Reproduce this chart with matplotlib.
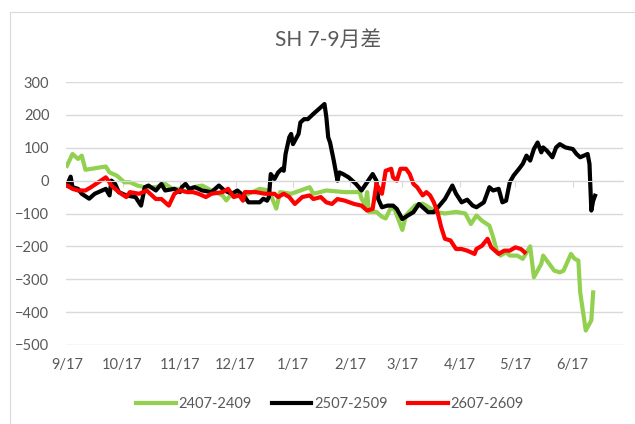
import datetime as dt

import matplotlib
matplotlib.use("Agg")
import matplotlib.pyplot as plt
import matplotlib.dates as mdates
from matplotlib.ticker import FuncFormatter
from matplotlib.patches import Rectangle

# days counted from 9/17
base = dt.date(2022, 9, 17)

days_2407 = [0, 3, 6, 8, 10, 21, 23, 27, 31, 34, 38, 42, 48, 53, 57, 60, 65, 68, 73,
             78, 84, 86, 89, 96, 102, 104, 109, 113, 115, 121, 126, 131, 133, 140, 150,
             158, 159, 161, 162, 163, 167, 170, 172, 175, 177, 181, 183, 188, 192, 195,
             199, 204, 210, 215, 218, 221, 224, 228, 230, 232, 234, 237, 239, 243, 246,
             250, 252, 256, 257, 263, 266, 268, 272, 274, 276, 277, 280, 283, 284]
vals_2407 = [45, 81, 66, 76, 33, 43, 25, 15, -5, -5, -15, -20, -20, -10, -25, -25, -35,
             -20, -15, -30, -45, -60, -40, -45, -30, -25, -30, -85, -35, -40, -30, -20,
             -40, -30, -35, -35, -55, -75, -35, -95, -95, -110, -115, -80, -90, -150,
             -105, -75, -70, -80, -95, -100, -95, -100, -132, -106, -122, -137, -172,
             -213, -228, -218, -228, -228, -238, -200, -294, -253, -228, -274, -279,
             -274, -223, -238, -243, -340, -456, -425, -340]

days_2507 = [0, 2, 3, 6, 8, 12, 15, 19, 21, 23, 24, 26, 28, 32, 37, 40, 42, 44, 48, 51,
             53, 58, 61, 62, 64, 66, 69, 73, 78, 82, 85, 89, 92, 96, 98, 104, 106, 108,
             109, 110, 112, 114, 116, 117, 118, 120, 121, 122, 125, 126, 128, 130, 133,
             139, 140, 141, 142, 144, 146, 147, 149, 152, 156, 159, 162, 165, 167, 168,
             170, 173, 176, 178, 181, 184, 187, 190, 193, 195, 198, 201, 204, 208, 210,
             213, 216, 219, 221, 225, 228, 230, 233, 235, 237, 239, 241, 244, 246, 248,
             250, 252, 254, 256, 257, 259, 262, 264, 266, 269, 273, 275, 277, 279, 281,
             282, 283, 284, 285]
vals_2507 = [-15, 12, -20, -25, -40, -55, -40, -30, -25, -45, 0, -10, -35, -45, -50, -76,
             -20, -15, -30, -10, -30, -25, -35, -20, -10, -25, -20, -30, -35, -15, -30,
             -40, -30, -50, -66, -66, -55, -61, -50, 20, 5, 25, 36, 30, 81, 132, 142,
             111, 142, 177, 187, 187, 203, 233, 193, 132, 116, 61, 0, 25, 20, 10, -10,
             -30, -5, 20, 0, -56, -81, -76, -76, -86, -117, -106, -96, -71, -86, -96,
             -96, -76, -56, -15, -40, -66, -58, -76, -81, -66, -20, -30, -25, -66, -61,
             -5, 15, 36, 51, 76, 61, 96, 116, 86, 101, 91, 71, 101, 111, 101, 96, 81, 71,
             76, 81, 51, -91, -61, -46]

days_2607 = [0, 3, 6, 10, 13, 17, 21, 23, 24, 28, 32, 34, 39, 43, 48, 51, 55, 58, 61, 65,
             68, 71, 75, 78, 84, 87, 90, 93, 95, 96, 102, 107, 112, 114, 117, 120, 123,
             127, 131, 133, 137, 140, 143, 146, 150, 155, 159, 162, 165, 167, 168, 170,
             172, 175, 176, 178, 180, 183, 185, 187, 189, 192, 194, 196, 198, 200, 202,
             204, 207, 210, 213, 216, 220, 221, 224, 227, 229, 230, 233, 236, 239, 242,
             245, 247]
vals_2607 = [-15, -25, -30, -30, -20, -5, 10, -5, -15, -35, -50, -35, -40, -30, -56, -56,
             -76, -40, -30, -35, -35, -40, -50, -40, -35, -25, -50, -45, -61, -35, -35,
             -40, -40, -50, -40, -50, -71, -50, -45, -56, -50, -66, -71, -56, -61, -71,
             -76, -91, -86, -10, -20, -40, 30, 36, 10, 0, 36, 36, 20, -10, -20, -45, -35,
             -45, -66, -96, -142, -177, -182, -208, -208, -213, -223, -208, -198, -177,
             -203, -208, -223, -213, -213, -203, -208, -218]

tick_dates = [dt.date(2022, 9, 17), dt.date(2022, 10, 17), dt.date(2022, 11, 17),
              dt.date(2022, 12, 17), dt.date(2023, 1, 17), dt.date(2023, 2, 17),
              dt.date(2023, 3, 17), dt.date(2023, 4, 17), dt.date(2023, 5, 17),
              dt.date(2023, 6, 17)]
yticks = [300, 200, 100, 0, -100, -200, -300, -400, -500]

grey = "#595959"
gridc = "#D9D9D9"
font = ["Lato", "Noto Sans CJK SC", "DejaVu Sans"]
plt.rcParams["font.family"] = font


def to_dates(days):
    return [base + dt.timedelta(days=d) for d in days]


fig = plt.figure(figsize=(6.35, 4.24), dpi=100)
fig.patches.append(Rectangle((10 / 635, -0.1), 1.0, 1.1 - 12 / 424,
                             transform=fig.transFigure, fill=False,
                             edgecolor=gridc, lw=0.8))
ax = fig.add_axes([66 / 635, 1 - 345 / 424, 557 / 635, 263 / 424])

ax.plot(to_dates(days_2407), vals_2407, color="#92D050", lw=3, label="2407-2409",
        solid_joinstyle="round")
ax.plot(to_dates(days_2507), vals_2507, color="black", lw=3, label="2507-2509",
        solid_joinstyle="round")
ax.plot(to_dates(days_2607), vals_2607, color="#FF0000", lw=3, label="2607-2609",
        solid_joinstyle="round")

x0 = mdates.date2num(base) - 0.5
ax.set_xlim(x0, x0 + 557 / 1.853)
ax.set_ylim(-500, 300)
ax.set_yticks(yticks)
ax.yaxis.grid(True, color=gridc, lw=1)
ax.set_axisbelow(True)
ax.tick_params(axis="y", length=0, labelsize=10.5, labelcolor=grey, pad=12)

for s in ["top", "right", "left"]:
    ax.spines[s].set_visible(False)
# horizontal axis crosses at 0, labels stay at the bottom
ax.spines["bottom"].set_position(("data", 0))
ax.spines["bottom"].set_color(gridc)
ax.set_xticks([mdates.date2num(d) for d in tick_dates])
ax.tick_params(axis="x", length=4, color=gridc, labelbottom=False)

sec = ax.secondary_xaxis(0)
sec.spines["bottom"].set_visible(False)
sec.set_xticks([mdates.date2num(d) for d in tick_dates])
sec.xaxis.set_major_formatter(FuncFormatter(
    lambda v, p: f"{mdates.num2date(v).month}/{mdates.num2date(v).day}"))
sec.tick_params(axis="x", length=0, labelsize=10.5, labelcolor=grey, pad=9)

fig.text(328 / 635, 1 - 40 / 424, "SH 7-9月差", ha="center", va="center",
         fontsize=15, color=grey)

fig.legend(loc="center", bbox_to_anchor=(330 / 635, 1 - 404 / 424), ncol=3,
           frameon=False, fontsize=10.5, labelcolor=grey, handlelength=2.7,
           handletextpad=0.2, columnspacing=1.4)

fig.savefig("out.png", dpi=100)
